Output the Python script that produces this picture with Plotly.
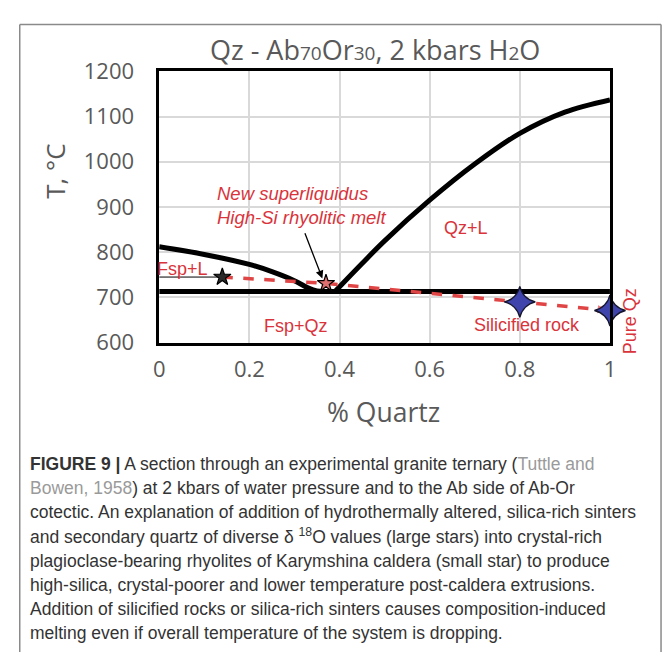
import plotly.graph_objects as go

# Liquidus curves of the Qz - Ab70Or30 section (2 kbar H2O)
left_liquidus_x = [0.0, 0.1, 0.2, 0.25, 0.3, 0.33, 0.35, 0.37]
left_liquidus_T = [812, 795, 773, 757, 737, 721, 714, 713]
right_liquidus_x = [0.39, 0.45, 0.5, 0.6, 0.7, 0.8, 0.9, 1.0]
right_liquidus_T = [713, 775, 825, 915, 995, 1063, 1110, 1137]

# Solidus (Fsp + Qz) temperature
solidus_x = [0.0, 1.0]
solidus_T = [713, 713]

# Mixing path from crystal-rich rhyolite towards pure quartz
path_x = [0.14, 0.37, 0.8, 1.0]
path_T = [745, 731, 690, 671]

# Rhyolite compositions (small stars) and silica additions (large stars)
small_star_x = [0.14, 0.37]
small_star_T = [745, 731]
large_star_x = [0.8, 1.0]
large_star_T = [690, 671]

# Fsp+L guide line
guide_x = [0.0, 0.14]
guide_T = [745, 745]

x_ticks = [0, 0.2, 0.4, 0.6, 0.8, 1]
x_tick_labels = ["0", "0.2", "0.4", "0.6", "0.8", "1"]
y_ticks = [600, 700, 800, 900, 1000, 1100, 1200]

W, H = 669, 666
RED = "#d9343b"
GRAY = "#595959"
CHART_FONT = "Open Sans"


def px(x):
    return x / W


def py(y):
    return 1 - y / H


fig = go.Figure()

fig.add_trace(go.Scatter(x=guide_x, y=guide_T, mode="lines",
                         line=dict(color="black", width=1), hoverinfo="skip"))
fig.add_trace(go.Scatter(x=solidus_x, y=solidus_T, mode="lines",
                         line=dict(color="black", width=5), hoverinfo="skip"))
fig.add_trace(go.Scatter(x=left_liquidus_x, y=left_liquidus_T, mode="lines",
                         line=dict(color="black", width=5, shape="spline"), hoverinfo="skip"))
fig.add_trace(go.Scatter(x=right_liquidus_x, y=right_liquidus_T, mode="lines",
                         line=dict(color="black", width=5, shape="spline"), hoverinfo="skip"))

fig.add_trace(go.Scatter(x=path_x, y=path_T, mode="lines",
                         line=dict(color="#e04545", width=3.5, dash="dash"), hoverinfo="skip"))
# arrowhead at the pure quartz end
fig.add_trace(go.Scatter(x=path_x[-2:], y=path_T[-2:], mode="markers",
                         marker=dict(symbol="arrow", angleref="previous", size=[0, 13],
                                     color="#e04545", line=dict(width=0)),
                         hoverinfo="skip"))

fig.add_trace(go.Scatter(x=small_star_x, y=small_star_T, mode="markers",
                         marker=dict(symbol="star", size=13,
                                     color=["#2a2a2a", "#e07070"],
                                     line=dict(color="black", width=1.2)),
                         hoverinfo="skip"))
# four-pointed stars (concave square turned on its corner)
fig.add_trace(go.Scatter(x=large_star_x, y=large_star_T, mode="markers",
                         marker=dict(symbol="star-square", angle=45, size=20, color="#3f44ad",
                                     line=dict(color="#15152e", width=1.3)),
                         cliponaxis=False, hoverinfo="skip"))

fig.update_layout(
    width=W, height=H,
    margin=dict(l=0, r=0, t=0, b=0),
    paper_bgcolor="white", plot_bgcolor="white",
    showlegend=False,
    font=dict(family=CHART_FONT, color=GRAY),
)

fig.update_xaxes(
    domain=[px(156), px(615)], range=[0, 1],
    tickvals=x_ticks, ticktext=x_tick_labels,
    tickfont=dict(size=22, color=GRAY, family=CHART_FONT),
    showgrid=True, gridcolor="#d9d9d9", gridwidth=2,
    showline=True, linecolor="black", linewidth=2.5, mirror=True,
    zeroline=False, ticks="", ticklabelstandoff=5,
)
fig.update_yaxes(
    domain=[py(342), py(58)], range=[600, 1200],
    tickvals=y_ticks,
    tickfont=dict(size=22, color=GRAY, family=CHART_FONT),
    showgrid=True, gridcolor="#d9d9d9", gridwidth=2,
    showline=True, linecolor="black", linewidth=2.5, mirror=True,
    zeroline=False, ticks="", ticklabelstandoff=18,
)

ann = []
# title and axis titles
ann.append(dict(xref="paper", yref="paper", x=px(376), y=py(35),
                text="Qz - Ab<span style='font-size:19px'>70</span>Or<span style='font-size:19px'>30</span>, "
                     "2 kbars H<span style='font-size:19px'>2</span>O",
                showarrow=False, font=dict(size=27, color=GRAY, family=CHART_FONT),
                xanchor="center", yanchor="middle"))
ann.append(dict(xref="paper", yref="paper", x=px(384), y=py(415), text="% Quartz",
                showarrow=False, font=dict(size=26.5, color=GRAY, family=CHART_FONT),
                xanchor="center", yanchor="middle"))
ann.append(dict(xref="paper", yref="paper", x=px(50), y=py(163), text="T, °C", textangle=-90,
                showarrow=False, font=dict(size=26, color=GRAY, family=CHART_FONT),
                xanchor="center", yanchor="middle"))

# field labels
lab = dict(family="Liberation Sans", size=18, color=RED)
ann.append(dict(x=0.681, y=853, text="Qz+L", showarrow=False, font=lab))
ann.append(dict(x=0.303, y=636, text="Fsp+Qz", showarrow=False, font=lab))
ann.append(dict(x=0.815, y=638, text="Silicified rock", showarrow=False, font=lab))
# labels sitting on or beyond the plot frame are placed in page coordinates
ann.append(dict(xref="paper", yref="paper", x=px(152), y=py(265), xanchor="left",
                yanchor="middle", text="Fsp+L", showarrow=False, font=lab))
ann.append(dict(xref="paper", yref="paper", x=px(635), y=py(320), xanchor="center",
                yanchor="middle", text="Pure Qz", textangle=-90, showarrow=False, font=lab))
ann.append(dict(x=0.124, y=903, xanchor="left", align="left",
                text="<i>New superliquidus<br>High-Si rhyolitic melt</i>",
                showarrow=False, font=dict(lab, size=18.5)))
# pointer to the new melt composition
ann.append(dict(x=0.362, y=742, ax=0.322, ay=845, axref="x", ayref="y",
                text="", showarrow=True, arrowhead=2, arrowsize=1.2, arrowwidth=1.3,
                arrowcolor="black"))

# caption
caption = [
    "<b>FIGURE 9 |</b> A section through an experimental granite ternary "
    "(<span style='color:#9a9a9a'>Tuttle and</span>",
    "<span style='color:#9a9a9a'>Bowen, 1958</span>) at 2 kbars of water pressure and to the Ab side of Ab-Or",
    "cotectic. An explanation of addition of hydrothermally altered, silica-rich sinters",
    "and secondary quartz of diverse δ <sup>18</sup>O values (large stars) into crystal-rich",
    "plagioclase-bearing rhyolites of Karymshina caldera (small star) to produce",
    "high-silica, crystal-poorer and lower temperature post-caldera extrusions.",
    "Addition of silicified rocks or silica-rich sinters causes composition-induced",
    "melting even if overall temperature of the system is dropping.",
]
for i, line in enumerate(caption):
    ann.append(dict(xref="paper", yref="paper", x=px(22), y=py(469 + 25.3 * i),
                    text=line, showarrow=False, xanchor="left", yanchor="middle",
                    font=dict(family="Liberation Sans", size=17.5, color="#333333")))

fig.update_layout(annotations=ann)

# page frame
frame = dict(type="line", xref="paper", yref="paper", line=dict(color="#8a8a8a", width=1.5))
fig.add_shape(frame, x0=px(14), x1=px(14), y0=py(9), y1=0)
fig.add_shape(frame, x0=px(14), x1=px(667), y0=py(9), y1=py(9))
fig.add_shape(frame, x0=px(667), x1=px(667), y0=py(9), y1=0)

fig.write_html("out.html")
